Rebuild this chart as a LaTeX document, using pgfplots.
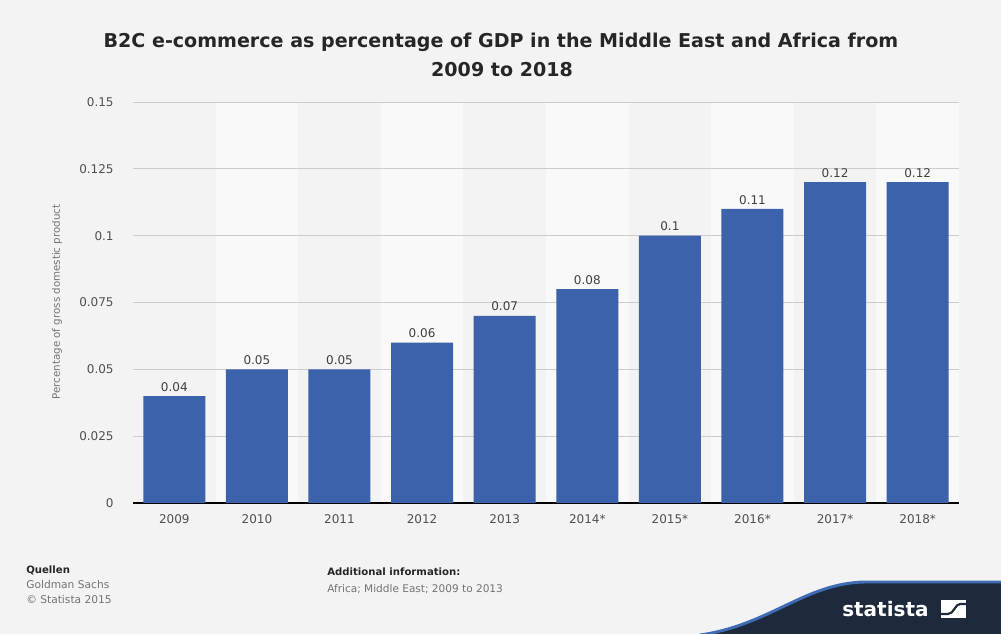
\documentclass[border=0pt]{standalone}
\usepackage{pgfplots}
\pgfplotsset{compat=1.18}
\usepackage{fontspec}
\setmainfont{DejaVu Sans}
\definecolor{bg}{HTML}{F3F3F3}
\definecolor{stripe}{HTML}{F9F9F9}
\definecolor{barblue}{HTML}{3C62AB}
\definecolor{navy}{HTML}{1E2A3B}
\definecolor{edgeblue}{HTML}{3F6CB4}
\definecolor{ticklab}{HTML}{505050}
\begin{document}
\begin{tikzpicture}
\begin{scope}[x=0.75pt,y=-0.75pt,yshift=475.5pt]
  \useasboundingbox (0,0) rectangle (1001,634);
  \fill[bg] (0,0) rectangle (1001,634);
  % column stripes (background)
  \foreach \i in {1,3,5,7,9} {
    \fill[stripe] ({133+82.6*\i},102) rectangle ({133+82.6*(\i+1)},503);
  }
  % title
  \node[font=\bfseries\fontsize{14.3}{17}\selectfont, text=black!85] at (501,42) {B2C e-commerce as percentage of GDP in the Middle East and Africa from};
  \node[font=\bfseries\fontsize{14.3}{17}\selectfont, text=black!85] at (502,70) {2009 to 2018};
  % footer
  \node[anchor=west, font=\bfseries\fontsize{7.6}{9}\selectfont, text=black!85, inner sep=0] at (26,570) {Quellen};
  \node[anchor=west, font=\fontsize{8}{9}\selectfont, text=black!55, inner sep=0] at (26,585) {Goldman Sachs};
  \node[anchor=west, font=\fontsize{8}{9}\selectfont, text=black!55, inner sep=0] at (26,600) {\textcopyright{} Statista 2015};
  \node[anchor=west, font=\bfseries\fontsize{7.6}{9}\selectfont, text=black!85, inner sep=0] at (327,572) {Additional information:};
  \node[anchor=west, font=\fontsize{7.9}{9}\selectfont, text=black!55, inner sep=0] at (327,589) {Africa; Middle East; 2009 to 2013};
  % banner
  \fill[navy] (700,636) .. controls (770,626) and (805,584) .. (865,583) -- (1003,583) -- (1003,636) -- cycle;
  \draw[edgeblue, line width=2.2pt] (700,635) .. controls (770,625) and (805,583) .. (865,582) -- (1003,582);
  \node[anchor=base west, font=\bfseries\fontsize{15}{17}\selectfont, text=white, inner sep=0] at (842,617) {statista};
  \fill[white] (941,600) rectangle (966,618);
  \draw[navy, line width=1.6pt] (941,614) -- (948,614) .. controls (954,614) and (955,604) .. (960,604) -- (966,604);
  % y label
  \node[rotate=90, font=\fontsize{7.7}{9}\selectfont, text=black!55] at (57,302) {Percentage of gross domestic product};
\end{scope}
\begin{axis}[
  at={(99.75pt,98.25pt)}, anchor=south west,
  scale only axis, width=619.5pt, height=300.75pt,
  ybar, bar width=46.5pt,
  xmin=-0.5, xmax=9.5, ymin=0, ymax=0.15,
  axis x line*=bottom, axis y line*=left,
  x axis line style={-, black, line width=0.9pt},
  y axis line style={draw=none},
  xtick=data,
  xticklabels={2009,2010,2011,2012,2013,2014*,2015*,2016*,2017*,2018*},
  ytick={0,0.025,0.05,0.075,0.1,0.125,0.15},
  yticklabels={0,0.025,0.05,0.075,0.1,0.125,0.15},
  major tick length=0pt,
  ymajorgrids, grid style={black!20, line width=0.7pt},
  tick label style={font=\fontsize{9}{11}\selectfont, text=ticklab},
  yticklabel style={xshift=-11pt},
  xticklabel style={yshift=-5pt},
  point meta=explicit symbolic,
  nodes near coords,
  every node near coord/.append style={font=\fontsize{9}{11}\selectfont, text=black!75},
]
\addplot[fill=barblue, draw=none] coordinates {
  (0,0.04) [0.04]
  (1,0.05) [0.05]
  (2,0.05) [0.05]
  (3,0.06) [0.06]
  (4,0.07) [0.07]
  (5,0.08) [0.08]
  (6,0.10) [0.1]
  (7,0.11) [0.11]
  (8,0.12) [0.12]
  (9,0.12) [0.12]
};
\end{axis}
\end{tikzpicture}
\end{document}
